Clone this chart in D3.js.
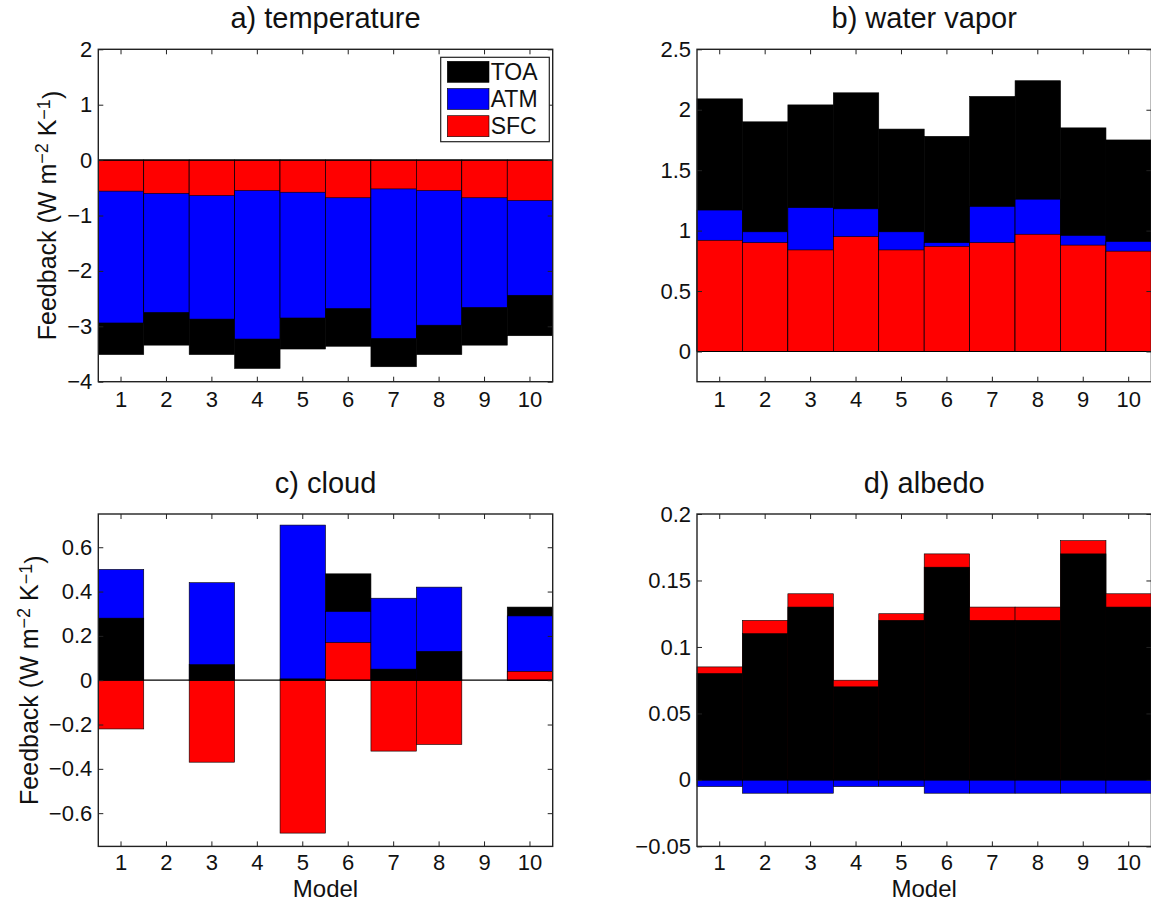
<!DOCTYPE html>
<html lang="en">
  <head>
    <meta charset="utf-8">
    <title>Feedback by model</title>
    <script src="https://d3js.org/d3.v7.min.js"></script>
    <style>
      body { margin: 0; background: #fff; }
      svg text { font-family: "Liberation Sans", Arial, Helvetica, sans-serif; fill: #111; }
    </style>
  </head>
  <body>
    <svg id="chart" width="1151" height="902"></svg>

  <script>
    // model numbers on the x axis
    const models = [1, 2, 3, 4, 5, 6, 7, 8, 9, 10]
    const seriesNames = ["TOA", "ATM", "SFC"]

    // a) temperature
    const tempTOA = [-3.51, -3.34, -3.51, -3.76, -3.41, -3.36, -3.73, -3.51, -3.34, -3.17]
    const tempATM = [-2.94, -2.75, -2.87, -3.23, -2.85, -2.68, -3.22, -2.98, -2.66, -2.44]
    const tempSFC = [-0.56, -0.60, -0.64, -0.55, -0.58, -0.68, -0.52, -0.55, -0.68, -0.73]

    // b) water vapor
    const wvTOA = [2.09, 1.90, 2.04, 2.14, 1.84, 1.78, 2.11, 2.24, 1.85, 1.75]
    const wvATM = [1.17, 0.99, 1.19, 1.18, 0.99, 0.90, 1.20, 1.26, 0.96, 0.91]
    const wvSFC = [0.92, 0.90, 0.84, 0.95, 0.84, 0.87, 0.90, 0.97, 0.88, 0.83]

    // c) cloud  (models 2, 4, 9 have no values)
    const cloudTOA = [0.28, null, 0.07, null, 0.006, 0.48, 0.05, 0.13, null, 0.33]
    const cloudATM = [0.50, null, 0.44, null, 0.70, 0.31, 0.37, 0.42, null, 0.29]
    const cloudSFC = [-0.22, null, -0.37, null, -0.69, 0.17, -0.32, -0.29, null, 0.04]

    // d) albedo
    const albTOA = [0.08, 0.11, 0.13, 0.07, 0.12, 0.16, 0.12, 0.12, 0.17, 0.13]
    const albATM = [-0.005, -0.01, -0.01, -0.005, -0.005, -0.01, -0.01, -0.01, -0.01, -0.01]
    const albSFC = [0.085, 0.12, 0.14, 0.075, 0.125, 0.17, 0.13, 0.13, 0.18, 0.14]

    // y tick values and their labels
    const tempTicks = [-4, -3, -2, -1, 0, 1, 2]
    const tempTickLabels = ["\u22124", "\u22123", "\u22122", "\u22121", "0", "1", "2"]
    const wvTicks = [0, 0.5, 1, 1.5, 2, 2.5]
    const wvTickLabels = ["0", "0.5", "1", "1.5", "2", "2.5"]
    const cloudTicks = [-0.6, -0.4, -0.2, 0, 0.2, 0.4, 0.6]
    const cloudTickLabels = ["\u22120.6", "\u22120.4", "\u22120.2", "0", "0.2", "0.4", "0.6"]
    const albTicks = [-0.05, 0, 0.05, 0.1, 0.15, 0.2]
    const albTickLabels = ["\u22120.05", "0", "0.05", "0.1", "0.15", "0.2"]

    const colors = { TOA: "#000000", ATM: "#0000ff", SFC: "#ff0000" }

    let svg = d3.select("#chart")

    let panels = [
      { title: "a) temperature", toa: tempTOA, atm: tempATM, sfc: tempSFC, domain: [-4, 2],
        ticks: tempTicks, labels: tempTickLabels, left: 98.3, top: 49.3, ylabelX: 56, xlabel: false, legend: true },
      { title: "b) water vapor", toa: wvTOA, atm: wvATM, sfc: wvSFC, domain: [-0.25, 2.5],
        ticks: wvTicks, labels: wvTickLabels, left: 697, top: 49.3, ylabelX: null, xlabel: false, legend: false },
      { title: "c) cloud", toa: cloudTOA, atm: cloudATM, sfc: cloudSFC, domain: [-0.75, 0.75],
        ticks: cloudTicks, labels: cloudTickLabels, left: 98.3, top: 514, ylabelX: 38, xlabel: true, legend: false },
      { title: "d) albedo", toa: albTOA, atm: albATM, sfc: albSFC, domain: [-0.05, 0.2],
        ticks: albTicks, labels: albTickLabels, left: 697, top: 514, ylabelX: null, xlabel: true, legend: false }
    ]

    let w = 454.4
    let h = 332.4

    panels.forEach(p => {

      let g = svg.append("g")
        .attr("transform", `translate(${p.left},${p.top})`)

      let x = d3.scaleBand()
        .domain(models)
        .range([0, w])
        .padding(0)

      let y = d3.scaleLinear()
        .domain(p.domain)
        .range([h, 0])

      g.append("rect")
        .attr("width", w)
        .attr("height", h)
        .style("fill", "#fff")

      // bars overlap from zero; biggest drawn first so smaller ones stay visible
      let bars = []
      models.forEach((m, i) => {
        let vals = [
          { key: "TOA", model: m, v: p.toa[i] },
          { key: "ATM", model: m, v: p.atm[i] },
          { key: "SFC", model: m, v: p.sfc[i] }
        ].filter(d => d.v !== null)
        vals.sort((a, b) => Math.abs(b.v) - Math.abs(a.v))
        bars = bars.concat(vals)
      })

      g.append("g")
        .selectAll("rect")
        .data(bars)
        .join("rect")
        .attr("x", d => x(d.model))
        .attr("width", x.bandwidth())
        .attr("y", d => Math.min(y(0), y(d.v)))
        .attr("height", d => Math.abs(y(d.v) - y(0)))
        .style("fill", d => colors[d.key])
        .style("stroke", "#000")
        .style("stroke-width", 0.6)

      // baseline at zero
      g.append("line")
        .attr("x1", 0)
        .attr("x2", w)
        .attr("y1", y(0))
        .attr("y2", y(0))
        .style("stroke", "#000")
        .style("stroke-width", 1.2)

      // axes, ticks pointing inward
      g.append("g")
        .attr("transform", `translate(0,${h})`)
        .call(d3.axisBottom(x).tickSize(-5).tickSizeOuter(0).tickPadding(p.xlabel ? 8 : 10))
      g.append("g")
        .call(d3.axisTop(x).tickSize(-5).tickSizeOuter(0).tickFormat(""))
      g.append("g")
        .call(d3.axisLeft(y).tickValues(p.ticks).tickSize(-5).tickSizeOuter(0).tickPadding(6)
          .tickFormat((d, i) => p.labels[i]))
      g.append("g")
        .attr("transform", `translate(${w},0)`)
        .call(d3.axisRight(y).tickValues(p.ticks).tickSize(-5).tickSizeOuter(0).tickFormat(""))

      g.selectAll(".domain").remove()
      g.selectAll(".tick line").style("stroke", "#222").style("stroke-width", 1)
      g.selectAll(".tick text")
        .style("font-size", "22px")
        .style("fill", "#111")
        .style("font-family", "'Liberation Sans', Arial, sans-serif")

      g.append("rect")
        .attr("width", w)
        .attr("height", h)
        .style("fill", "none")
        .style("stroke", "#222")
        .style("stroke-width", 1.4)

      g.append("text")
        .attr("x", w / 2)
        .attr("y", -21)
        .attr("text-anchor", "middle")
        .style("font-size", "29px")
        .text(p.title)

      if (p.xlabel) {
        g.append("text")
          .attr("x", w / 2)
          .attr("y", h + 50.6)
          .attr("text-anchor", "middle")
          .style("font-size", "24px")
          .text("Model")
      }

      if (p.ylabelX !== null) {
        let yl = svg.append("text")
          .attr("transform", `translate(${p.ylabelX},${p.top + h / 2}) rotate(-90)`)
          .attr("text-anchor", "middle")
          .style("font-size", "25px")
        yl.append("tspan").text("Feedback (W m")
        yl.append("tspan").attr("dy", "-0.45em").style("font-size", "18px").text("\u22122")
        yl.append("tspan").attr("dy", "0.32em").text(" K")
        yl.append("tspan").attr("dy", "-0.32em").style("font-size", "18px").text("\u22121")
        yl.append("tspan").attr("dy", "0.45em").text(")")
      }

      if (p.legend) {
        let lg = g.append("g")
          .attr("transform", `translate(${440.7 - p.left},${57.3 - p.top})`)
        lg.append("rect")
          .attr("width", 108.6)
          .attr("height", 84.4)
          .style("fill", "#fff")
          .style("stroke", "#222")
          .style("stroke-width", 1.2)
        seriesNames.forEach((s, i) => {
          lg.append("rect")
            .attr("x", 6.6)
            .attr("y", 4 + i * 27.2)
            .attr("width", 41.7)
            .attr("height", 21)
            .style("fill", colors[s])
            .style("stroke", "#000")
            .style("stroke-width", 0.6)
          lg.append("text")
            .attr("x", 50)
            .attr("y", 4 + i * 27.2 + 10.5 + 8)
            .style("font-size", "23px")
            .text(s)
        })
      }
    })
  </script>
  </body>
</html>
